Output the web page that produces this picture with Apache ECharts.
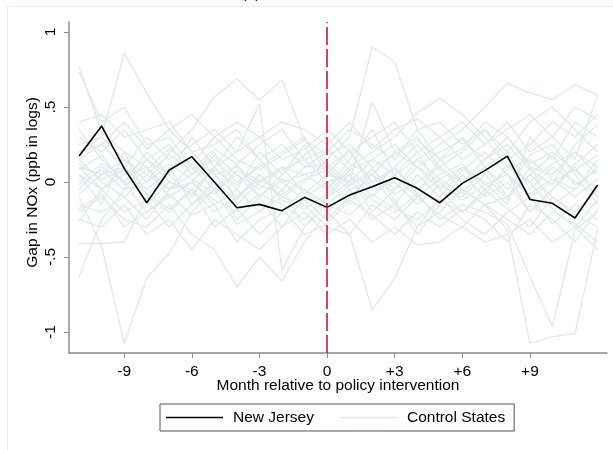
<!DOCTYPE html>
<html>
<head>
<meta charset="utf-8">
<script src="https://cdn.jsdelivr.net/npm/echarts@6/dist/echarts.min.js"></script>
<style>
  html, body { margin: 0; padding: 0; background: #fff; }
  #chart { width: 613px; height: 450px; }
</style>
</head>
<body>
<div id="chart"></div>
<script>
// Months relative to the policy intervention
const months = [-11, -10, -9, -8, -7, -6, -5, -4, -3, -2, -1, 0, 1, 2, 3, 4, 5, 6, 7, 8, 9, 10, 11, 12];
const xTicks = [-9, -6, -3, 0, 3, 6, 9];
const yTicks = [-1, -0.5, 0, 0.5, 1];

// Gap in NOx (ppb in logs) for the treated state
const newJersey = [0.173, 0.373, 0.091, -0.138, 0.08, 0.169, 0.0, -0.171, -0.149, -0.191, -0.102, -0.169,
                   -0.087, -0.031, 0.029, -0.042, -0.138, -0.009, 0.076, 0.173, -0.116, -0.142, -0.24, -0.02];

// Placebo gaps for each control state
const control01 = [0.25, 0.30, 0.86, 0.59, 0.35, 0.20, 0.05, -0.10, 0.02, -0.05, 0.10, 0.12, 0.00, 0.15, 0.05, -0.10, 0.02, 0.10, -0.05, 0.08, 0.15, 0.02, -0.05, 0.10];
const control02 = [-0.10, -0.43, -1.075, -0.64, -0.475, -0.20, -0.05, 0.05, -0.10, 0.02, -0.05, -0.15, -0.02, 0.08, -0.05, 0.10, 0.00, -0.12, -0.02, 0.05, -0.10, 0.00, 0.08, -0.05];
const control03 = [0.77, 0.33, 0.20, 0.10, -0.05, 0.05, 0.20, -0.15, 0.00, 0.10, -0.08, 0.05, 0.22, -0.05, 0.10, -0.08, 0.15, 0.30, 0.10, -0.05, 0.18, 0.25, 0.05, -0.15];
const control04 = [0.735, 0.40, 0.50, 0.25, 0.30, 0.10, -0.05, 0.12, -0.10, 0.05, 0.18, 0.30, 0.12, 0.05, -0.15, 0.05, -0.10, 0.08, 0.20, 0.05, -0.20, -0.05, 0.12, 0.25];
const control05 = [-0.63, -0.25, -0.05, 0.15, 0.05, -0.10, 0.10, 0.30, 0.15, 0.00, -0.12, -0.25, -0.10, 0.05, 0.20, 0.10, -0.05, -0.20, -0.08, 0.12, 0.00, -0.18, -0.30, -0.12];
const control06 = [-0.41, -0.41, -0.40, -0.10, -0.20, -0.05, -0.30, -0.18, -0.35, -0.20, -0.05, -0.20, -0.35, -0.15, -0.25, -0.10, -0.22, -0.30, -0.15, -0.25, -0.35, -0.20, -0.28, -0.40];
const control07 = [0.10, 0.05, 0.15, 0.00, 0.20, 0.35, 0.569, 0.687, 0.547, 0.68, 0.28, 0.10, 0.20, 0.00, 0.10, 0.25, 0.08, 0.00, 0.15, 0.30, 0.10, 0.05, 0.20, 0.10];
const control08 = [0.05, -0.05, 0.10, -0.15, 0.00, -0.08, 0.10, 0.20, 0.52, -0.587, -0.30, -0.10, 0.05, -0.20, -0.05, 0.15, 0.02, -0.08, 0.10, -0.10, 0.05, 0.18, -0.02, 0.08];
const control09 = [-0.20, -0.10, -0.25, -0.30, -0.15, -0.35, -0.45, -0.70, -0.50, -0.66, -0.40, -0.20, -0.05, -0.25, -0.15, -0.30, -0.10, -0.25, -0.35, -0.20, -0.10, -0.28, -0.15, -0.25];
const control10 = [0.15, 0.00, -0.10, 0.05, -0.05, 0.12, 0.00, -0.12, 0.05, -0.10, 0.00, 0.15, 0.30, 0.90, 0.80, 0.35, 0.15, 0.00, 0.10, 0.20, -0.05, 0.10, 0.00, -0.08];
const control11 = [-0.05, 0.10, 0.00, -0.20, -0.10, 0.00, -0.15, -0.05, -0.20, -0.10, -0.15, -0.30, -0.35, -0.853, -0.64, -0.30, -0.20, -0.05, -0.15, -0.10, 0.05, -0.10, -0.20, -0.05];
const control12 = [0.30, 0.20, 0.35, 0.15, 0.25, 0.05, 0.15, 0.00, 0.10, 0.20, 0.30, 0.05, 0.00, 0.535, 0.20, 0.30, 0.10, 0.20, 0.35, 0.15, 0.25, 0.40, 0.30, 0.45];
const control13 = [0.00, 0.12, 0.05, 0.10, -0.10, 0.00, 0.18, 0.05, -0.05, 0.10, 0.05, -0.05, 0.10, 0.20, 0.30, 0.46, 0.558, 0.45, 0.30, 0.10, 0.00, 0.12, 0.20, 0.05];
const control14 = [-0.08, 0.05, 0.10, -0.05, 0.08, 0.15, 0.05, 0.10, 0.00, 0.08, 0.15, 0.00, 0.05, -0.10, 0.05, 0.15, 0.25, 0.35, 0.50, 0.658, 0.595, 0.55, 0.65, 0.58];
const control15 = [0.10, -0.05, 0.05, 0.15, 0.00, -0.05, 0.08, -0.02, 0.12, 0.00, 0.05, 0.10, -0.02, 0.05, -0.08, 0.00, 0.10, -0.05, -0.15, -0.32, -1.075, -1.03, -1.01, -0.32];
const control16 = [-0.15, -0.20, -0.10, -0.25, -0.05, 0.00, -0.12, -0.20, -0.08, -0.15, -0.25, -0.10, 0.00, -0.12, -0.20, -0.08, -0.25, -0.15, -0.20, -0.28, -0.63, -0.965, -0.32, -0.20];
const control17 = [0.20, 0.25, 0.10, 0.30, 0.15, 0.25, 0.35, 0.20, 0.30, 0.15, 0.22, 0.35, 0.20, 0.30, 0.40, 0.20, 0.30, 0.15, 0.25, 0.40, 0.20, 0.30, 0.15, 0.58];
const control18 = [0.40, 0.45, 0.30, 0.35, 0.40, 0.20, 0.25, 0.35, 0.15, 0.25, 0.10, 0.20, 0.35, 0.25, 0.15, 0.35, 0.40, 0.25, 0.35, 0.20, 0.40, 0.50, 0.35, 0.20];
const control19 = [-0.25, -0.30, -0.15, -0.35, -0.25, -0.45, -0.25, -0.35, -0.45, -0.30, -0.20, -0.35, -0.25, -0.40, -0.30, -0.42, -0.40, -0.30, -0.40, -0.35, -0.25, -0.40, -0.30, -0.45];
const control20 = [0.05, -0.15, 0.20, -0.10, 0.10, -0.15, 0.00, -0.25, -0.10, -0.30, -0.10, 0.00, -0.15, 0.10, -0.12, -0.35, -0.15, 0.05, -0.10, 0.00, -0.20, -0.05, 0.10, -0.10];
const control21 = [0.35, 0.15, 0.00, 0.20, 0.05, 0.30, 0.10, -0.05, 0.20, 0.05, 0.25, -0.05, 0.15, 0.35, 0.05, 0.20, -0.05, 0.10, 0.00, -0.15, 0.30, 0.15, 0.40, 0.30];
const control22 = [-0.02, 0.08, -0.05, 0.00, 0.12, 0.02, -0.08, 0.08, -0.02, -0.08, 0.02, 0.08, -0.05, 0.00, 0.08, -0.05, 0.05, 0.12, -0.02, 0.05, -0.08, 0.02, -0.10, 0.02];
const control23 = [0.12, 0.02, 0.08, -0.08, -0.18, -0.05, -0.20, -0.10, 0.05, -0.12, -0.18, -0.08, 0.08, -0.05, 0.00, -0.15, -0.02, -0.10, 0.05, -0.12, 0.10, -0.15, -0.05, 0.15];
const control24 = [0.20, 0.30, 0.15, 0.05, 0.18, 0.08, 0.22, 0.12, 0.25, 0.35, 0.15, 0.22, 0.08, 0.15, 0.25, 0.10, 0.20, 0.28, 0.15, 0.25, 0.08, -0.02, 0.25, 0.38];
const control25 = [-0.26, -0.05, -0.20, -0.12, -0.30, -0.15, -0.05, -0.28, -0.20, -0.05, -0.30, -0.15, -0.22, -0.08, -0.18, -0.25, -0.12, -0.20, -0.05, -0.18, -0.30, -0.10, -0.22, -0.30];
const control26 = [0.08, 0.18, -0.02, 0.08, 0.22, 0.12, 0.30, 0.15, 0.08, 0.18, 0.28, 0.18, 0.25, 0.10, 0.18, 0.28, 0.15, 0.22, 0.40, 0.30, 0.12, 0.20, 0.08, 0.18];
const control27 = [-0.18, -0.08, -0.30, -0.20, -0.08, -0.22, -0.15, -0.40, -0.25, -0.18, -0.35, -0.28, -0.12, -0.22, -0.35, -0.20, -0.30, -0.18, -0.25, -0.40, -0.15, -0.25, -0.40, -0.18];
const control28 = [0.15, 0.25, 0.40, 0.22, 0.35, 0.45, 0.30, 0.40, 0.30, 0.40, 0.35, 0.25, 0.40, 0.22, 0.35, 0.42, 0.30, 0.40, 0.25, 0.35, 0.45, 0.30, 0.50, 0.42];

const controls = [control01, control02, control03, control04, control05, control06, control07,
  control08, control09, control10, control11, control12, control13, control14, control15,
  control16, control17, control18, control19, control20, control21, control22, control23,
  control24, control25, control26, control27, control28];

const FONT = '"Liberation Sans", Arial, sans-serif';
const FONT_SIZE = 15.5;
const AXIS_GRAY = '#8c8c8c';
const CONTROL_COLOR = '#dfe8ea';

const pairs = (vals) => months.map((m, i) => [m, vals[i]]);

const series = controls.map((vals) => ({
  name: 'Control States',
  type: 'line',
  data: pairs(vals),
  symbol: 'none',
  color: CONTROL_COLOR,
  itemStyle: { color: CONTROL_COLOR },
  lineStyle: { color: CONTROL_COLOR, width: 1.3 },
  silent: true,
  animation: false,
  z: 2
}));

// Intervention marker
series.push({
  type: 'line',
  data: [],
  symbol: 'none',
  silent: true,
  animation: false,
  z: 3,
  markLine: {
    symbol: 'none',
    silent: true,
    animation: false,
    label: { show: false },
    lineStyle: { color: '#c2173f', width: 1.6, type: [18, 4] },
    data: [{ xAxis: 0 }]
  }
});

series.push({
  name: 'New Jersey',
  type: 'line',
  data: pairs(newJersey),
  symbol: 'none',
  color: '#000',
  itemStyle: { color: '#000' },
  lineStyle: { color: '#000', width: 1.6 },
  animation: false,
  z: 4
});

const yFmt = (v) => (v === 0 ? '0' : String(v).replace('0.', '.'));

const chart = echarts.init(document.getElementById('chart'), null, { renderer: 'canvas' });
chart.setOption({
  backgroundColor: '#fff',
  animation: false,
  textStyle: { fontFamily: FONT },
  grid: { left: 69, right: 6, top: 22, bottom: 97, containLabel: false },
  xAxis: {
    type: 'value',
    min: -11.45,
    max: 12.42,
    name: 'Month relative to policy intervention',
    nameLocation: 'middle',
    nameGap: 24.5,
    nameMoveOverlap: false,
    nameTextStyle: { fontSize: FONT_SIZE, color: '#000', fontFamily: FONT },
    axisLine: { show: true, onZero: false, lineStyle: { color: AXIS_GRAY, width: 1.5 } },
    axisTick: { show: true, length: 5, customValues: xTicks, lineStyle: { color: AXIS_GRAY, width: 1 } },
    axisLabel: {
      customValues: xTicks,
      fontSize: FONT_SIZE,
      color: '#000',
      margin: 11,
      fontFamily: FONT,
      formatter: (v) => (v > 0 ? '+' + v : String(v))
    },
    splitLine: { show: false }
  },
  yAxis: {
    type: 'value',
    min: -1.14,
    max: 1.067,
    name: 'Gap in NOx (ppb in logs)',
    nameLocation: 'middle',
    nameRotate: 90,
    nameGap: 28,
    nameMoveOverlap: false,
    nameTextStyle: { fontSize: FONT_SIZE, color: '#000', fontFamily: FONT, padding: [0, 0, 0, 10] },
    axisLine: { show: true, onZero: false, lineStyle: { color: AXIS_GRAY, width: 1.5 } },
    axisTick: { show: true, length: 5, customValues: yTicks, lineStyle: { color: AXIS_GRAY, width: 1 } },
    axisLabel: {
      customValues: yTicks,
      rotate: 90,
      fontSize: FONT_SIZE,
      color: '#000',
      margin: 10,
      fontFamily: FONT,
      formatter: yFmt
    },
    splitLine: { show: false }
  },
  legend: {
    left: 160,
    top: 404,
    orient: 'horizontal',
    data: ['New Jersey', 'Control States'],
    icon: 'rect',
    itemWidth: 57,
    itemHeight: 1.6,
    itemGap: 26,
    padding: [5.5, 9, 5.5, 6],
    borderColor: '#555',
    borderWidth: 1,
    selectedMode: false,
    textStyle: { fontSize: FONT_SIZE, color: '#000', fontFamily: FONT, padding: [0, 0, 0, 5] }
  },
  graphic: [
    {
      type: 'rect',
      silent: true,
      shape: { x: 7.5, y: 6.5, width: 700, height: 500 },
      style: { fill: 'none', stroke: '#e6ecef', lineWidth: 1 },
      z: -1
    },
    {
      type: 'text',
      silent: true,
      style: {
        text: '(a)',
        x: 251,
        y: 2,
        textAlign: 'center',
        textVerticalAlign: 'bottom',
        fontSize: FONT_SIZE,
        fontFamily: FONT,
        fill: '#000'
      }
    }
  ],
  series: series
});
</script>
</body>
</html>
